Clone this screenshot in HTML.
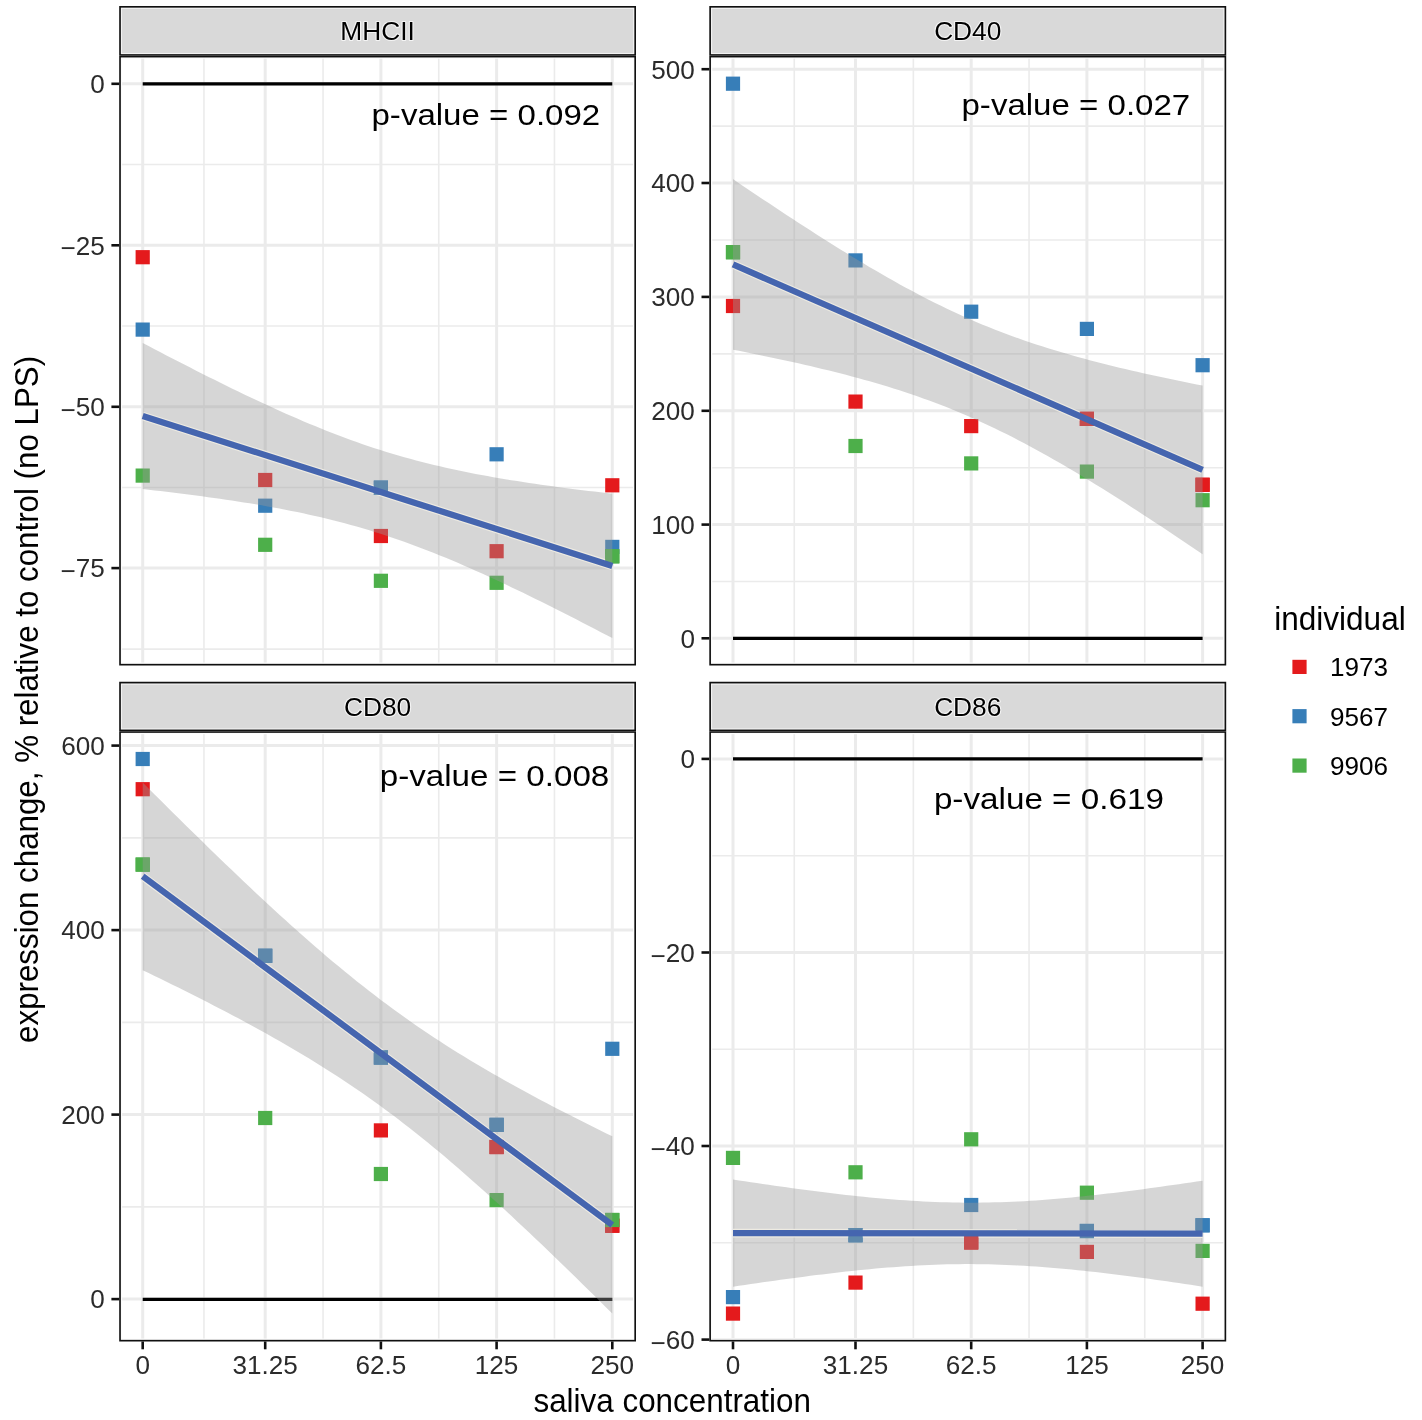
<!DOCTYPE html>
<html><head><meta charset="utf-8"><style>html,body{margin:0;padding:0;background:#fff;overflow:hidden}svg{display:block;will-change:transform}svg text{font-family:"Liberation Sans",sans-serif}</style></head><body>
<svg width="1422" height="1420" viewBox="0 0 1422 1420" >
<rect width="1422" height="1420" fill="#fff"/>
<defs>
<clipPath id="c0"><rect x="119.2" y="55.8" width="516.80" height="609.70"/></clipPath>
<clipPath id="s0"><rect x="119.2" y="6.0" width="516.80" height="49.80"/></clipPath>
<clipPath id="c1"><rect x="709.3" y="55.8" width="516.90" height="609.70"/></clipPath>
<clipPath id="s1"><rect x="709.3" y="6.0" width="516.90" height="49.80"/></clipPath>
<clipPath id="c2"><rect x="119.2" y="731.2" width="516.80" height="610.30"/></clipPath>
<clipPath id="s2"><rect x="119.2" y="681.8" width="516.80" height="49.40"/></clipPath>
<clipPath id="c3"><rect x="709.3" y="731.2" width="516.90" height="610.30"/></clipPath>
<clipPath id="s3"><rect x="709.3" y="681.8" width="516.90" height="49.40"/></clipPath>
</defs>
<g clip-path="url(#c0)">
<line x1="203.95" y1="55.8" x2="203.95" y2="665.5" stroke="#EBEBEB" stroke-width="1.6"/>
<line x1="323.05" y1="55.8" x2="323.05" y2="665.5" stroke="#EBEBEB" stroke-width="1.6"/>
<line x1="438.75" y1="55.8" x2="438.75" y2="665.5" stroke="#EBEBEB" stroke-width="1.6"/>
<line x1="554.45" y1="55.8" x2="554.45" y2="665.5" stroke="#EBEBEB" stroke-width="1.6"/>
<line x1="119.2" y1="164.55" x2="636.0" y2="164.55" stroke="#EBEBEB" stroke-width="1.6"/>
<line x1="119.2" y1="326.05" x2="636.0" y2="326.05" stroke="#EBEBEB" stroke-width="1.6"/>
<line x1="119.2" y1="487.45" x2="636.0" y2="487.45" stroke="#EBEBEB" stroke-width="1.6"/>
<line x1="119.2" y1="649.10" x2="636.0" y2="649.10" stroke="#EBEBEB" stroke-width="1.6"/>
<line x1="142.70" y1="55.8" x2="142.70" y2="665.5" stroke="#EBEBEB" stroke-width="3.0"/>
<line x1="265.20" y1="55.8" x2="265.20" y2="665.5" stroke="#EBEBEB" stroke-width="3.0"/>
<line x1="380.90" y1="55.8" x2="380.90" y2="665.5" stroke="#EBEBEB" stroke-width="3.0"/>
<line x1="496.60" y1="55.8" x2="496.60" y2="665.5" stroke="#EBEBEB" stroke-width="3.0"/>
<line x1="612.30" y1="55.8" x2="612.30" y2="665.5" stroke="#EBEBEB" stroke-width="3.0"/>
<line x1="119.2" y1="83.80" x2="636.0" y2="83.80" stroke="#EBEBEB" stroke-width="3.0"/>
<line x1="119.2" y1="245.30" x2="636.0" y2="245.30" stroke="#EBEBEB" stroke-width="3.0"/>
<line x1="119.2" y1="406.80" x2="636.0" y2="406.80" stroke="#EBEBEB" stroke-width="3.0"/>
<line x1="119.2" y1="568.10" x2="636.0" y2="568.10" stroke="#EBEBEB" stroke-width="3.0"/>
<line x1="142.70" y1="83.8" x2="612.30" y2="83.8" stroke="#000" stroke-width="3.15"/>
<rect x="135.60" y="250.10" width="14.2" height="14.2" fill="#E41A1C"/>
<rect x="258.10" y="472.90" width="14.2" height="14.2" fill="#E41A1C"/>
<rect x="373.80" y="528.90" width="14.2" height="14.2" fill="#E41A1C"/>
<rect x="489.50" y="544.10" width="14.2" height="14.2" fill="#E41A1C"/>
<rect x="605.20" y="478.20" width="14.2" height="14.2" fill="#E41A1C"/>
<rect x="135.60" y="322.50" width="14.2" height="14.2" fill="#377EB8"/>
<rect x="258.10" y="498.60" width="14.2" height="14.2" fill="#377EB8"/>
<rect x="373.80" y="480.60" width="14.2" height="14.2" fill="#377EB8"/>
<rect x="489.50" y="447.20" width="14.2" height="14.2" fill="#377EB8"/>
<rect x="605.20" y="539.80" width="14.2" height="14.2" fill="#377EB8"/>
<rect x="135.60" y="468.50" width="14.2" height="14.2" fill="#4DAF4A"/>
<rect x="258.10" y="537.70" width="14.2" height="14.2" fill="#4DAF4A"/>
<rect x="373.80" y="573.70" width="14.2" height="14.2" fill="#4DAF4A"/>
<rect x="489.50" y="575.70" width="14.2" height="14.2" fill="#4DAF4A"/>
<rect x="605.20" y="549.20" width="14.2" height="14.2" fill="#4DAF4A"/>
<polygon points="142.70,342.96 148.64,346.08 154.59,349.19 160.53,352.30 166.48,355.39 172.42,358.46 178.37,361.53 184.31,364.58 190.25,367.62 196.20,370.64 202.14,373.64 208.09,376.63 214.03,379.60 219.98,382.55 225.92,385.48 231.86,388.39 237.81,391.27 243.75,394.14 249.70,396.97 255.64,399.78 261.59,402.57 267.53,405.32 273.47,408.05 279.42,410.74 285.36,413.40 291.31,416.02 297.25,418.60 303.20,421.15 309.14,423.66 315.08,426.12 321.03,428.54 326.97,430.92 332.92,433.25 338.86,435.53 344.81,437.76 350.75,439.94 356.69,442.07 362.64,444.14 368.58,446.17 374.53,448.14 380.47,450.05 386.42,451.91 392.36,453.72 398.31,455.48 404.25,457.18 410.19,458.83 416.14,460.43 422.08,461.97 428.03,463.47 433.97,464.92 439.92,466.33 445.86,467.69 451.80,469.01 457.75,470.28 463.69,471.52 469.64,472.71 475.58,473.88 481.53,475.00 487.47,476.09 493.41,477.16 499.36,478.19 505.30,479.19 511.25,480.16 517.19,481.11 523.14,482.04 529.08,482.94 535.02,483.82 540.97,484.67 546.91,485.51 552.86,486.33 558.80,487.13 564.75,487.92 570.69,488.69 576.63,489.44 582.58,490.18 588.52,490.91 594.47,491.62 600.41,492.32 606.36,493.01 612.30,493.69 612.30,638.12 606.36,635.01 600.41,631.90 594.47,628.81 588.52,625.73 582.58,622.66 576.63,619.60 570.69,616.56 564.75,613.54 558.80,610.53 552.86,607.53 546.91,604.56 540.97,601.60 535.02,598.67 529.08,595.75 523.14,592.86 517.19,589.99 511.25,587.14 505.30,584.32 499.36,581.53 493.41,578.76 487.47,576.03 481.53,573.33 475.58,570.66 469.64,568.03 463.69,565.43 457.75,562.87 451.80,560.35 445.86,557.87 439.92,555.44 433.97,553.05 428.03,550.71 422.08,548.41 416.14,546.16 410.19,543.97 404.25,541.82 398.31,539.73 392.36,537.69 386.42,535.70 380.47,533.77 374.53,531.89 368.58,530.07 362.64,528.30 356.69,526.58 350.75,524.91 344.81,523.30 338.86,521.73 332.92,520.22 326.97,518.75 321.03,517.33 315.08,515.96 309.14,514.63 303.20,513.34 297.25,512.09 291.31,510.88 285.36,509.71 279.42,508.57 273.47,507.47 267.53,506.40 261.59,505.36 255.64,504.35 249.70,503.37 243.75,502.41 237.81,501.48 231.86,500.57 225.92,499.68 219.98,498.82 214.03,497.97 208.09,497.15 202.14,496.34 196.20,495.55 190.25,494.78 184.31,494.02 178.37,493.28 172.42,492.55 166.48,491.83 160.53,491.12 154.59,490.43 148.64,489.75 142.70,489.08" fill="#999999" fill-opacity="0.4"/>
<line x1="142.70" y1="416.02" x2="612.30" y2="565.91" stroke="#EEEBE2" stroke-width="8.6"/>
<rect x="373.80" y="480.60" width="14.2" height="14.2" fill="#377EB8"/>
<rect x="373.80" y="480.60" width="14.20" height="14.2" fill="#999999" fill-opacity="0.4"/>
<rect x="605.20" y="549.20" width="14.2" height="14.2" fill="#4DAF4A"/>
<rect x="605.20" y="549.20" width="7.10" height="14.2" fill="#999999" fill-opacity="0.4"/>
<line x1="142.70" y1="416.02" x2="612.30" y2="565.91" stroke="#4565AF" stroke-width="6.3"/>
<text x="371.5" y="125.1" font-size="28.8" textLength="228.7" lengthAdjust="spacingAndGlyphs" fill="#000">p-value = 0.092</text>
<rect x="119.2" y="55.8" width="516.80" height="609.70" fill="none" stroke="#FCFCFC" stroke-width="5.90"/>
<rect x="119.2" y="55.8" width="516.80" height="609.70" fill="none" stroke="#101010" stroke-width="3.3"/>
</g>
<g clip-path="url(#s0)"><rect x="119.2" y="6.0" width="516.80" height="49.80" fill="#F2F2F2" stroke="#101010" stroke-width="3.3"/><rect x="122.05" y="8.85" width="511.10" height="44.10" fill="#D9D9D9"/></g>
<text x="377.60" y="40.10" font-size="26.3" text-anchor="middle" fill="#000000" stroke="#F4F4F4" stroke-width="2.2" paint-order="stroke" stroke-linejoin="round">MHCII</text>
<line x1="111.40" y1="83.80" x2="119.20" y2="83.80" stroke="#101010" stroke-width="2.6"/>
<text x="104.80" y="93.10" font-size="26.1" text-anchor="end" fill="#2B2B2B">0</text>
<line x1="111.40" y1="245.30" x2="119.20" y2="245.30" stroke="#101010" stroke-width="2.6"/>
<text x="104.80" y="254.60" font-size="26.1" text-anchor="end" fill="#2B2B2B"><tspan dy="2.7">−</tspan><tspan dy="-2.7">25</tspan></text>
<line x1="111.40" y1="406.80" x2="119.20" y2="406.80" stroke="#101010" stroke-width="2.6"/>
<text x="104.80" y="416.10" font-size="26.1" text-anchor="end" fill="#2B2B2B"><tspan dy="2.7">−</tspan><tspan dy="-2.7">50</tspan></text>
<line x1="111.40" y1="568.10" x2="119.20" y2="568.10" stroke="#101010" stroke-width="2.6"/>
<text x="104.80" y="577.40" font-size="26.1" text-anchor="end" fill="#2B2B2B"><tspan dy="2.7">−</tspan><tspan dy="-2.7">75</tspan></text>
<g clip-path="url(#c1)">
<line x1="794.25" y1="55.8" x2="794.25" y2="665.5" stroke="#EBEBEB" stroke-width="1.6"/>
<line x1="913.35" y1="55.8" x2="913.35" y2="665.5" stroke="#EBEBEB" stroke-width="1.6"/>
<line x1="1029.05" y1="55.8" x2="1029.05" y2="665.5" stroke="#EBEBEB" stroke-width="1.6"/>
<line x1="1144.75" y1="55.8" x2="1144.75" y2="665.5" stroke="#EBEBEB" stroke-width="1.6"/>
<line x1="709.3" y1="581.45" x2="1226.2" y2="581.45" stroke="#EBEBEB" stroke-width="1.6"/>
<line x1="709.3" y1="467.70" x2="1226.2" y2="467.70" stroke="#EBEBEB" stroke-width="1.6"/>
<line x1="709.3" y1="353.85" x2="1226.2" y2="353.85" stroke="#EBEBEB" stroke-width="1.6"/>
<line x1="709.3" y1="239.95" x2="1226.2" y2="239.95" stroke="#EBEBEB" stroke-width="1.6"/>
<line x1="709.3" y1="126.10" x2="1226.2" y2="126.10" stroke="#EBEBEB" stroke-width="1.6"/>
<line x1="733.00" y1="55.8" x2="733.00" y2="665.5" stroke="#EBEBEB" stroke-width="3.0"/>
<line x1="855.50" y1="55.8" x2="855.50" y2="665.5" stroke="#EBEBEB" stroke-width="3.0"/>
<line x1="971.20" y1="55.8" x2="971.20" y2="665.5" stroke="#EBEBEB" stroke-width="3.0"/>
<line x1="1086.90" y1="55.8" x2="1086.90" y2="665.5" stroke="#EBEBEB" stroke-width="3.0"/>
<line x1="1202.60" y1="55.8" x2="1202.60" y2="665.5" stroke="#EBEBEB" stroke-width="3.0"/>
<line x1="709.3" y1="638.30" x2="1226.2" y2="638.30" stroke="#EBEBEB" stroke-width="3.0"/>
<line x1="709.3" y1="524.60" x2="1226.2" y2="524.60" stroke="#EBEBEB" stroke-width="3.0"/>
<line x1="709.3" y1="410.80" x2="1226.2" y2="410.80" stroke="#EBEBEB" stroke-width="3.0"/>
<line x1="709.3" y1="296.90" x2="1226.2" y2="296.90" stroke="#EBEBEB" stroke-width="3.0"/>
<line x1="709.3" y1="183.00" x2="1226.2" y2="183.00" stroke="#EBEBEB" stroke-width="3.0"/>
<line x1="709.3" y1="69.20" x2="1226.2" y2="69.20" stroke="#EBEBEB" stroke-width="3.0"/>
<line x1="733.00" y1="638.4" x2="1202.60" y2="638.4" stroke="#000" stroke-width="3.15"/>
<rect x="725.90" y="298.90" width="14.2" height="14.2" fill="#E41A1C"/>
<rect x="848.40" y="394.50" width="14.2" height="14.2" fill="#E41A1C"/>
<rect x="964.10" y="419.00" width="14.2" height="14.2" fill="#E41A1C"/>
<rect x="1079.80" y="411.80" width="14.2" height="14.2" fill="#E41A1C"/>
<rect x="1195.50" y="477.70" width="14.2" height="14.2" fill="#E41A1C"/>
<rect x="725.90" y="76.60" width="14.2" height="14.2" fill="#377EB8"/>
<rect x="848.40" y="253.30" width="14.2" height="14.2" fill="#377EB8"/>
<rect x="964.10" y="304.60" width="14.2" height="14.2" fill="#377EB8"/>
<rect x="1079.80" y="321.80" width="14.2" height="14.2" fill="#377EB8"/>
<rect x="1195.50" y="358.10" width="14.2" height="14.2" fill="#377EB8"/>
<rect x="725.90" y="245.10" width="14.2" height="14.2" fill="#4DAF4A"/>
<rect x="848.40" y="438.90" width="14.2" height="14.2" fill="#4DAF4A"/>
<rect x="964.10" y="456.30" width="14.2" height="14.2" fill="#4DAF4A"/>
<rect x="1079.80" y="464.50" width="14.2" height="14.2" fill="#4DAF4A"/>
<rect x="1195.50" y="493.10" width="14.2" height="14.2" fill="#4DAF4A"/>
<polygon points="733.00,179.11 738.94,183.15 744.89,187.17 750.83,191.17 756.78,195.17 762.72,199.15 768.67,203.11 774.61,207.06 780.55,210.99 786.50,214.90 792.44,218.80 798.39,222.67 804.33,226.52 810.28,230.35 816.22,234.16 822.16,237.94 828.11,241.70 834.05,245.43 840.00,249.13 845.94,252.79 851.89,256.43 857.83,260.03 863.77,263.60 869.72,267.13 875.66,270.62 881.61,274.07 887.55,277.47 893.50,280.83 899.44,284.14 905.38,287.40 911.33,290.62 917.27,293.78 923.22,296.88 929.16,299.93 935.11,302.92 941.05,305.85 946.99,308.72 952.94,311.53 958.88,314.28 964.83,316.97 970.77,319.59 976.72,322.15 982.66,324.65 988.61,327.08 994.55,329.46 1000.49,331.77 1006.44,334.02 1012.38,336.22 1018.33,338.35 1024.27,340.43 1030.22,342.46 1036.16,344.43 1042.10,346.36 1048.05,348.23 1053.99,350.06 1059.94,351.85 1065.88,353.59 1071.83,355.29 1077.77,356.95 1083.71,358.58 1089.66,360.17 1095.60,361.72 1101.55,363.25 1107.49,364.74 1113.44,366.21 1119.38,367.65 1125.32,369.06 1131.27,370.45 1137.21,371.81 1143.16,373.16 1149.10,374.48 1155.05,375.78 1160.99,377.07 1166.93,378.33 1172.88,379.58 1178.82,380.82 1184.77,382.04 1190.71,383.24 1196.66,384.43 1202.60,385.61 1202.60,554.21 1196.66,550.19 1190.71,546.17 1184.77,542.18 1178.82,538.19 1172.88,534.22 1166.93,530.27 1160.99,526.33 1155.05,522.42 1149.10,518.52 1143.16,514.64 1137.21,510.78 1131.27,506.94 1125.32,503.12 1119.38,499.33 1113.44,495.57 1107.49,491.83 1101.55,488.12 1095.60,484.45 1089.66,480.80 1083.71,477.19 1077.77,473.61 1071.83,470.07 1065.88,466.57 1059.94,463.10 1053.99,459.69 1048.05,456.31 1042.10,452.99 1036.16,449.71 1030.22,446.48 1024.27,443.30 1018.33,440.18 1012.38,437.11 1006.44,434.10 1000.49,431.15 994.55,428.26 988.61,425.43 982.66,422.67 976.72,419.96 970.77,417.32 964.83,414.74 958.88,412.22 952.94,409.77 946.99,407.37 941.05,405.04 935.11,402.77 929.16,400.56 923.22,398.41 917.27,396.31 911.33,394.26 905.38,392.27 899.44,390.33 893.50,388.44 887.55,386.60 881.61,384.80 875.66,383.05 869.72,381.33 863.77,379.66 857.83,378.02 851.89,376.42 845.94,374.85 840.00,373.32 834.05,371.82 828.11,370.34 822.16,368.89 816.22,367.47 810.28,366.08 804.33,364.70 798.39,363.35 792.44,362.03 786.50,360.72 780.55,359.43 774.61,358.15 768.67,356.90 762.72,355.66 756.78,354.44 750.83,353.23 744.89,352.03 738.94,350.85 733.00,349.68" fill="#999999" fill-opacity="0.4"/>
<line x1="733.00" y1="264.40" x2="1202.60" y2="469.91" stroke="#EEEBE2" stroke-width="8.6"/>
<rect x="1079.80" y="411.80" width="14.2" height="14.2" fill="#E41A1C"/>
<rect x="1079.80" y="411.80" width="14.20" height="14.2" fill="#999999" fill-opacity="0.4"/>
<rect x="1195.50" y="477.70" width="14.2" height="14.2" fill="#E41A1C"/>
<rect x="1195.50" y="477.70" width="7.10" height="14.2" fill="#999999" fill-opacity="0.4"/>
<rect x="725.90" y="245.10" width="14.2" height="14.2" fill="#4DAF4A"/>
<rect x="733.00" y="245.10" width="7.10" height="14.2" fill="#999999" fill-opacity="0.4"/>
<line x1="733.00" y1="264.40" x2="1202.60" y2="469.91" stroke="#4565AF" stroke-width="6.3"/>
<text x="961.5" y="114.7" font-size="28.8" textLength="228.7" lengthAdjust="spacingAndGlyphs" fill="#000">p-value = 0.027</text>
<rect x="709.3" y="55.8" width="516.90" height="609.70" fill="none" stroke="#FCFCFC" stroke-width="5.90"/>
<rect x="709.3" y="55.8" width="516.90" height="609.70" fill="none" stroke="#101010" stroke-width="3.3"/>
</g>
<g clip-path="url(#s1)"><rect x="709.3" y="6.0" width="516.90" height="49.80" fill="#F2F2F2" stroke="#101010" stroke-width="3.3"/><rect x="712.15" y="8.85" width="511.20" height="44.10" fill="#D9D9D9"/></g>
<text x="967.75" y="40.10" font-size="26.3" text-anchor="middle" fill="#000000" stroke="#F4F4F4" stroke-width="2.2" paint-order="stroke" stroke-linejoin="round">CD40</text>
<line x1="701.50" y1="638.30" x2="709.30" y2="638.30" stroke="#101010" stroke-width="2.6"/>
<text x="694.90" y="647.60" font-size="26.1" text-anchor="end" fill="#2B2B2B">0</text>
<line x1="701.50" y1="524.60" x2="709.30" y2="524.60" stroke="#101010" stroke-width="2.6"/>
<text x="694.90" y="533.90" font-size="26.1" text-anchor="end" fill="#2B2B2B">100</text>
<line x1="701.50" y1="410.80" x2="709.30" y2="410.80" stroke="#101010" stroke-width="2.6"/>
<text x="694.90" y="420.10" font-size="26.1" text-anchor="end" fill="#2B2B2B">200</text>
<line x1="701.50" y1="296.90" x2="709.30" y2="296.90" stroke="#101010" stroke-width="2.6"/>
<text x="694.90" y="306.20" font-size="26.1" text-anchor="end" fill="#2B2B2B">300</text>
<line x1="701.50" y1="183.00" x2="709.30" y2="183.00" stroke="#101010" stroke-width="2.6"/>
<text x="694.90" y="192.30" font-size="26.1" text-anchor="end" fill="#2B2B2B">400</text>
<line x1="701.50" y1="69.20" x2="709.30" y2="69.20" stroke="#101010" stroke-width="2.6"/>
<text x="694.90" y="78.50" font-size="26.1" text-anchor="end" fill="#2B2B2B">500</text>
<g clip-path="url(#c2)">
<line x1="203.95" y1="731.2" x2="203.95" y2="1341.5" stroke="#EBEBEB" stroke-width="1.6"/>
<line x1="323.05" y1="731.2" x2="323.05" y2="1341.5" stroke="#EBEBEB" stroke-width="1.6"/>
<line x1="438.75" y1="731.2" x2="438.75" y2="1341.5" stroke="#EBEBEB" stroke-width="1.6"/>
<line x1="554.45" y1="731.2" x2="554.45" y2="1341.5" stroke="#EBEBEB" stroke-width="1.6"/>
<line x1="119.2" y1="1206.85" x2="636.0" y2="1206.85" stroke="#EBEBEB" stroke-width="1.6"/>
<line x1="119.2" y1="1022.35" x2="636.0" y2="1022.35" stroke="#EBEBEB" stroke-width="1.6"/>
<line x1="119.2" y1="837.85" x2="636.0" y2="837.85" stroke="#EBEBEB" stroke-width="1.6"/>
<line x1="142.70" y1="731.2" x2="142.70" y2="1341.5" stroke="#EBEBEB" stroke-width="3.0"/>
<line x1="265.20" y1="731.2" x2="265.20" y2="1341.5" stroke="#EBEBEB" stroke-width="3.0"/>
<line x1="380.90" y1="731.2" x2="380.90" y2="1341.5" stroke="#EBEBEB" stroke-width="3.0"/>
<line x1="496.60" y1="731.2" x2="496.60" y2="1341.5" stroke="#EBEBEB" stroke-width="3.0"/>
<line x1="612.30" y1="731.2" x2="612.30" y2="1341.5" stroke="#EBEBEB" stroke-width="3.0"/>
<line x1="119.2" y1="1299.10" x2="636.0" y2="1299.10" stroke="#EBEBEB" stroke-width="3.0"/>
<line x1="119.2" y1="1114.60" x2="636.0" y2="1114.60" stroke="#EBEBEB" stroke-width="3.0"/>
<line x1="119.2" y1="930.10" x2="636.0" y2="930.10" stroke="#EBEBEB" stroke-width="3.0"/>
<line x1="119.2" y1="745.60" x2="636.0" y2="745.60" stroke="#EBEBEB" stroke-width="3.0"/>
<line x1="142.70" y1="1299.4" x2="612.30" y2="1299.4" stroke="#000" stroke-width="3.15"/>
<rect x="135.60" y="782.10" width="14.2" height="14.2" fill="#E41A1C"/>
<rect x="373.80" y="1123.30" width="14.2" height="14.2" fill="#E41A1C"/>
<rect x="489.50" y="1139.90" width="14.2" height="14.2" fill="#E41A1C"/>
<rect x="605.20" y="1218.60" width="14.2" height="14.2" fill="#E41A1C"/>
<rect x="135.60" y="751.90" width="14.2" height="14.2" fill="#377EB8"/>
<rect x="258.10" y="948.70" width="14.2" height="14.2" fill="#377EB8"/>
<rect x="373.80" y="1050.40" width="14.2" height="14.2" fill="#377EB8"/>
<rect x="489.50" y="1117.80" width="14.2" height="14.2" fill="#377EB8"/>
<rect x="605.20" y="1041.70" width="14.2" height="14.2" fill="#377EB8"/>
<rect x="135.60" y="857.50" width="14.2" height="14.2" fill="#4DAF4A"/>
<rect x="258.10" y="1110.90" width="14.2" height="14.2" fill="#4DAF4A"/>
<rect x="373.80" y="1166.90" width="14.2" height="14.2" fill="#4DAF4A"/>
<rect x="489.50" y="1193.00" width="14.2" height="14.2" fill="#4DAF4A"/>
<rect x="605.20" y="1212.90" width="14.2" height="14.2" fill="#4DAF4A"/>
<polygon points="142.70,782.50 148.64,788.46 154.59,794.40 160.53,800.32 166.48,806.24 172.42,812.13 178.37,818.02 184.31,823.88 190.25,829.73 196.20,835.56 202.14,841.37 208.09,847.17 214.03,852.94 219.98,858.68 225.92,864.41 231.86,870.11 237.81,875.78 243.75,881.43 249.70,887.04 255.64,892.63 261.59,898.19 267.53,903.71 273.47,909.19 279.42,914.64 285.36,920.04 291.31,925.41 297.25,930.73 303.20,936.01 309.14,941.24 315.08,946.42 321.03,951.55 326.97,956.63 332.92,961.65 338.86,966.61 344.81,971.52 350.75,976.36 356.69,981.15 362.64,985.87 368.58,990.53 374.53,995.12 380.47,999.64 386.42,1004.10 392.36,1008.50 398.31,1012.83 404.25,1017.09 410.19,1021.28 416.14,1025.42 422.08,1029.49 428.03,1033.49 433.97,1037.44 439.92,1041.33 445.86,1045.15 451.80,1048.93 457.75,1052.65 463.69,1056.31 469.64,1059.93 475.58,1063.50 481.53,1067.02 487.47,1070.50 493.41,1073.94 499.36,1077.33 505.30,1080.69 511.25,1084.01 517.19,1087.30 523.14,1090.55 529.08,1093.77 535.02,1096.96 540.97,1100.13 546.91,1103.26 552.86,1106.38 558.80,1109.46 564.75,1112.53 570.69,1115.57 576.63,1118.59 582.58,1121.60 588.52,1124.58 594.47,1127.55 600.41,1130.50 606.36,1133.43 612.30,1136.35 612.30,1313.54 606.36,1307.63 600.41,1301.74 594.47,1295.86 588.52,1290.00 582.58,1284.16 576.63,1278.34 570.69,1272.54 564.75,1266.75 558.80,1260.99 552.86,1255.26 546.91,1249.54 540.97,1243.85 535.02,1238.19 529.08,1232.56 523.14,1226.95 517.19,1221.38 511.25,1215.84 505.30,1210.34 499.36,1204.87 493.41,1199.44 487.47,1194.05 481.53,1188.70 475.58,1183.40 469.64,1178.14 463.69,1172.93 457.75,1167.77 451.80,1162.67 445.86,1157.61 439.92,1152.62 433.97,1147.68 428.03,1142.80 422.08,1137.98 416.14,1133.22 410.19,1128.53 404.25,1123.90 398.31,1119.34 392.36,1114.84 386.42,1110.41 380.47,1106.04 374.53,1101.74 368.58,1097.51 362.64,1093.34 356.69,1089.24 350.75,1085.19 344.81,1081.21 338.86,1077.29 332.92,1073.43 326.97,1069.63 321.03,1065.88 315.08,1062.18 309.14,1058.54 303.20,1054.94 297.25,1051.39 291.31,1047.89 285.36,1044.43 279.42,1041.01 273.47,1037.63 267.53,1034.29 261.59,1030.99 255.64,1027.72 249.70,1024.48 243.75,1021.27 237.81,1018.09 231.86,1014.94 225.92,1011.81 219.98,1008.71 214.03,1005.63 208.09,1002.58 202.14,999.54 196.20,996.53 190.25,993.53 184.31,990.56 178.37,987.60 172.42,984.65 166.48,981.73 160.53,978.81 154.59,975.91 148.64,973.03 142.70,970.15" fill="#999999" fill-opacity="0.4"/>
<line x1="142.70" y1="876.33" x2="612.30" y2="1224.94" stroke="#EEEBE2" stroke-width="8.6"/>
<rect x="489.50" y="1139.90" width="14.2" height="14.2" fill="#E41A1C"/>
<rect x="489.50" y="1139.90" width="14.20" height="14.2" fill="#999999" fill-opacity="0.4"/>
<rect x="605.20" y="1218.60" width="14.2" height="14.2" fill="#E41A1C"/>
<rect x="605.20" y="1218.60" width="7.10" height="14.2" fill="#999999" fill-opacity="0.4"/>
<rect x="258.10" y="948.70" width="14.2" height="14.2" fill="#377EB8"/>
<rect x="258.10" y="948.70" width="14.20" height="14.2" fill="#999999" fill-opacity="0.4"/>
<rect x="373.80" y="1050.40" width="14.2" height="14.2" fill="#377EB8"/>
<rect x="373.80" y="1050.40" width="14.20" height="14.2" fill="#999999" fill-opacity="0.4"/>
<rect x="489.50" y="1117.80" width="14.2" height="14.2" fill="#377EB8"/>
<rect x="489.50" y="1117.80" width="14.20" height="14.2" fill="#999999" fill-opacity="0.4"/>
<rect x="135.60" y="857.50" width="14.2" height="14.2" fill="#4DAF4A"/>
<rect x="142.70" y="857.50" width="7.10" height="14.2" fill="#999999" fill-opacity="0.4"/>
<rect x="605.20" y="1212.90" width="14.2" height="14.2" fill="#4DAF4A"/>
<rect x="605.20" y="1212.90" width="7.10" height="14.2" fill="#999999" fill-opacity="0.4"/>
<line x1="142.70" y1="876.33" x2="612.30" y2="1224.94" stroke="#4565AF" stroke-width="6.3"/>
<text x="379.7" y="785.7" font-size="28.8" textLength="229.6" lengthAdjust="spacingAndGlyphs" fill="#000">p-value = 0.008</text>
<rect x="119.2" y="731.2" width="516.80" height="610.30" fill="none" stroke="#FCFCFC" stroke-width="5.90"/>
<rect x="119.2" y="731.2" width="516.80" height="610.30" fill="none" stroke="#101010" stroke-width="3.3"/>
</g>
<g clip-path="url(#s2)"><rect x="119.2" y="681.8" width="516.80" height="49.40" fill="#F2F2F2" stroke="#101010" stroke-width="3.3"/><rect x="122.05" y="684.65" width="511.10" height="43.70" fill="#D9D9D9"/></g>
<text x="377.60" y="715.70" font-size="26.3" text-anchor="middle" fill="#000000" stroke="#F4F4F4" stroke-width="2.2" paint-order="stroke" stroke-linejoin="round">CD80</text>
<line x1="111.40" y1="1299.10" x2="119.20" y2="1299.10" stroke="#101010" stroke-width="2.6"/>
<text x="104.80" y="1308.40" font-size="26.1" text-anchor="end" fill="#2B2B2B">0</text>
<line x1="111.40" y1="1114.60" x2="119.20" y2="1114.60" stroke="#101010" stroke-width="2.6"/>
<text x="104.80" y="1123.90" font-size="26.1" text-anchor="end" fill="#2B2B2B">200</text>
<line x1="111.40" y1="930.10" x2="119.20" y2="930.10" stroke="#101010" stroke-width="2.6"/>
<text x="104.80" y="939.40" font-size="26.1" text-anchor="end" fill="#2B2B2B">400</text>
<line x1="111.40" y1="745.60" x2="119.20" y2="745.60" stroke="#101010" stroke-width="2.6"/>
<text x="104.80" y="754.90" font-size="26.1" text-anchor="end" fill="#2B2B2B">600</text>
<line x1="142.70" y1="1341.50" x2="142.70" y2="1349.30" stroke="#101010" stroke-width="2.6"/>
<text x="142.70" y="1374.3" font-size="26.1" text-anchor="middle" fill="#2B2B2B">0</text>
<line x1="265.20" y1="1341.50" x2="265.20" y2="1349.30" stroke="#101010" stroke-width="2.6"/>
<text x="265.20" y="1374.3" font-size="26.1" text-anchor="middle" fill="#2B2B2B">31.25</text>
<line x1="380.90" y1="1341.50" x2="380.90" y2="1349.30" stroke="#101010" stroke-width="2.6"/>
<text x="380.90" y="1374.3" font-size="26.1" text-anchor="middle" fill="#2B2B2B">62.5</text>
<line x1="496.60" y1="1341.50" x2="496.60" y2="1349.30" stroke="#101010" stroke-width="2.6"/>
<text x="496.60" y="1374.3" font-size="26.1" text-anchor="middle" fill="#2B2B2B">125</text>
<line x1="612.30" y1="1341.50" x2="612.30" y2="1349.30" stroke="#101010" stroke-width="2.6"/>
<text x="612.30" y="1374.3" font-size="26.1" text-anchor="middle" fill="#2B2B2B">250</text>
<g clip-path="url(#c3)">
<line x1="794.25" y1="731.2" x2="794.25" y2="1341.5" stroke="#EBEBEB" stroke-width="1.6"/>
<line x1="913.35" y1="731.2" x2="913.35" y2="1341.5" stroke="#EBEBEB" stroke-width="1.6"/>
<line x1="1029.05" y1="731.2" x2="1029.05" y2="1341.5" stroke="#EBEBEB" stroke-width="1.6"/>
<line x1="1144.75" y1="731.2" x2="1144.75" y2="1341.5" stroke="#EBEBEB" stroke-width="1.6"/>
<line x1="709.3" y1="855.70" x2="1226.2" y2="855.70" stroke="#EBEBEB" stroke-width="1.6"/>
<line x1="709.3" y1="1049.25" x2="1226.2" y2="1049.25" stroke="#EBEBEB" stroke-width="1.6"/>
<line x1="709.3" y1="1242.80" x2="1226.2" y2="1242.80" stroke="#EBEBEB" stroke-width="1.6"/>
<line x1="733.00" y1="731.2" x2="733.00" y2="1341.5" stroke="#EBEBEB" stroke-width="3.0"/>
<line x1="855.50" y1="731.2" x2="855.50" y2="1341.5" stroke="#EBEBEB" stroke-width="3.0"/>
<line x1="971.20" y1="731.2" x2="971.20" y2="1341.5" stroke="#EBEBEB" stroke-width="3.0"/>
<line x1="1086.90" y1="731.2" x2="1086.90" y2="1341.5" stroke="#EBEBEB" stroke-width="3.0"/>
<line x1="1202.60" y1="731.2" x2="1202.60" y2="1341.5" stroke="#EBEBEB" stroke-width="3.0"/>
<line x1="709.3" y1="758.90" x2="1226.2" y2="758.90" stroke="#EBEBEB" stroke-width="3.0"/>
<line x1="709.3" y1="952.50" x2="1226.2" y2="952.50" stroke="#EBEBEB" stroke-width="3.0"/>
<line x1="709.3" y1="1146.00" x2="1226.2" y2="1146.00" stroke="#EBEBEB" stroke-width="3.0"/>
<line x1="709.3" y1="1339.60" x2="1226.2" y2="1339.60" stroke="#EBEBEB" stroke-width="3.0"/>
<line x1="733.00" y1="758.9" x2="1202.60" y2="758.9" stroke="#000" stroke-width="3.15"/>
<rect x="725.90" y="1306.50" width="14.2" height="14.2" fill="#E41A1C"/>
<rect x="848.40" y="1275.50" width="14.2" height="14.2" fill="#E41A1C"/>
<rect x="964.10" y="1235.30" width="14.2" height="14.2" fill="#E41A1C"/>
<rect x="1079.80" y="1244.80" width="14.2" height="14.2" fill="#E41A1C"/>
<rect x="1195.50" y="1296.60" width="14.2" height="14.2" fill="#E41A1C"/>
<rect x="725.90" y="1290.00" width="14.2" height="14.2" fill="#377EB8"/>
<rect x="848.40" y="1228.10" width="14.2" height="14.2" fill="#377EB8"/>
<rect x="964.10" y="1197.90" width="14.2" height="14.2" fill="#377EB8"/>
<rect x="1079.80" y="1223.90" width="14.2" height="14.2" fill="#377EB8"/>
<rect x="1195.50" y="1218.20" width="14.2" height="14.2" fill="#377EB8"/>
<rect x="725.90" y="1150.80" width="14.2" height="14.2" fill="#4DAF4A"/>
<rect x="848.40" y="1165.20" width="14.2" height="14.2" fill="#4DAF4A"/>
<rect x="964.10" y="1132.20" width="14.2" height="14.2" fill="#4DAF4A"/>
<rect x="1079.80" y="1185.60" width="14.2" height="14.2" fill="#4DAF4A"/>
<rect x="1195.50" y="1243.80" width="14.2" height="14.2" fill="#4DAF4A"/>
<polygon points="733.00,1179.52 738.94,1180.42 744.89,1181.32 750.83,1182.21 756.78,1183.10 762.72,1183.97 768.67,1184.83 774.61,1185.69 780.55,1186.53 786.50,1187.36 792.44,1188.18 798.39,1188.98 804.33,1189.78 810.28,1190.56 816.22,1191.32 822.16,1192.07 828.11,1192.80 834.05,1193.52 840.00,1194.21 845.94,1194.89 851.89,1195.55 857.83,1196.18 863.77,1196.80 869.72,1197.39 875.66,1197.95 881.61,1198.49 887.55,1199.00 893.50,1199.49 899.44,1199.94 905.38,1200.36 911.33,1200.75 917.27,1201.11 923.22,1201.43 929.16,1201.72 935.11,1201.97 941.05,1202.19 946.99,1202.36 952.94,1202.50 958.88,1202.60 964.83,1202.66 970.77,1202.68 976.72,1202.66 982.66,1202.60 988.61,1202.51 994.55,1202.37 1000.49,1202.20 1006.44,1201.98 1012.38,1201.73 1018.33,1201.45 1024.27,1201.13 1030.22,1200.77 1036.16,1200.39 1042.10,1199.97 1048.05,1199.52 1053.99,1199.04 1059.94,1198.53 1065.88,1198.00 1071.83,1197.44 1077.77,1196.86 1083.71,1196.25 1089.66,1195.62 1095.60,1194.97 1101.55,1194.30 1107.49,1193.61 1113.44,1192.90 1119.38,1192.18 1125.32,1191.44 1131.27,1190.68 1137.21,1189.91 1143.16,1189.13 1149.10,1188.33 1155.05,1187.52 1160.99,1186.70 1166.93,1185.87 1172.88,1185.03 1178.82,1184.18 1184.77,1183.31 1190.71,1182.44 1196.66,1181.56 1202.60,1180.68 1202.60,1286.65 1196.66,1285.74 1190.71,1284.85 1184.77,1283.97 1178.82,1283.09 1172.88,1282.22 1166.93,1281.37 1160.99,1280.52 1155.05,1279.69 1149.10,1278.86 1143.16,1278.05 1137.21,1277.26 1131.27,1276.47 1125.32,1275.70 1119.38,1274.95 1113.44,1274.21 1107.49,1273.49 1101.55,1272.79 1095.60,1272.10 1089.66,1271.44 1083.71,1270.80 1077.77,1270.18 1071.83,1269.58 1065.88,1269.01 1059.94,1268.46 1053.99,1267.94 1048.05,1267.45 1042.10,1266.99 1036.16,1266.55 1030.22,1266.15 1024.27,1265.78 1018.33,1265.45 1012.38,1265.15 1006.44,1264.89 1000.49,1264.66 994.55,1264.47 988.61,1264.32 982.66,1264.21 976.72,1264.14 970.77,1264.11 964.83,1264.11 958.88,1264.16 952.94,1264.24 946.99,1264.37 941.05,1264.53 935.11,1264.73 929.16,1264.97 923.22,1265.25 917.27,1265.56 911.33,1265.90 905.38,1266.28 899.44,1266.69 893.50,1267.13 887.55,1267.59 881.61,1268.09 875.66,1268.62 869.72,1269.17 863.77,1269.74 857.83,1270.34 851.89,1270.97 845.94,1271.61 840.00,1272.27 834.05,1272.96 828.11,1273.66 822.16,1274.38 816.22,1275.11 810.28,1275.86 804.33,1276.63 798.39,1277.41 792.44,1278.20 786.50,1279.01 780.55,1279.82 774.61,1280.65 768.67,1281.49 762.72,1282.34 756.78,1283.20 750.83,1284.07 744.89,1284.95 738.94,1285.83 733.00,1286.73" fill="#999999" fill-opacity="0.4"/>
<line x1="733.00" y1="1233.12" x2="1202.60" y2="1233.66" stroke="#EEEBE2" stroke-width="8.6"/>
<rect x="964.10" y="1235.30" width="14.2" height="14.2" fill="#E41A1C"/>
<rect x="964.10" y="1235.30" width="14.20" height="14.2" fill="#999999" fill-opacity="0.4"/>
<rect x="848.40" y="1228.10" width="14.2" height="14.2" fill="#377EB8"/>
<rect x="848.40" y="1228.10" width="14.20" height="14.2" fill="#999999" fill-opacity="0.4"/>
<rect x="1079.80" y="1223.90" width="14.2" height="14.2" fill="#377EB8"/>
<rect x="1079.80" y="1223.90" width="14.20" height="14.2" fill="#999999" fill-opacity="0.4"/>
<rect x="1195.50" y="1218.20" width="14.2" height="14.2" fill="#377EB8"/>
<rect x="1195.50" y="1218.20" width="7.10" height="14.2" fill="#999999" fill-opacity="0.4"/>
<line x1="733.00" y1="1233.12" x2="1202.60" y2="1233.66" stroke="#4565AF" stroke-width="6.3"/>
<text x="933.9" y="808.8" font-size="28.8" textLength="230.0" lengthAdjust="spacingAndGlyphs" fill="#000">p-value = 0.619</text>
<rect x="709.3" y="731.2" width="516.90" height="610.30" fill="none" stroke="#FCFCFC" stroke-width="5.90"/>
<rect x="709.3" y="731.2" width="516.90" height="610.30" fill="none" stroke="#101010" stroke-width="3.3"/>
</g>
<g clip-path="url(#s3)"><rect x="709.3" y="681.8" width="516.90" height="49.40" fill="#F2F2F2" stroke="#101010" stroke-width="3.3"/><rect x="712.15" y="684.65" width="511.20" height="43.70" fill="#D9D9D9"/></g>
<text x="967.75" y="715.70" font-size="26.3" text-anchor="middle" fill="#000000" stroke="#F4F4F4" stroke-width="2.2" paint-order="stroke" stroke-linejoin="round">CD86</text>
<line x1="701.50" y1="758.90" x2="709.30" y2="758.90" stroke="#101010" stroke-width="2.6"/>
<text x="694.90" y="768.20" font-size="26.1" text-anchor="end" fill="#2B2B2B">0</text>
<line x1="701.50" y1="952.50" x2="709.30" y2="952.50" stroke="#101010" stroke-width="2.6"/>
<text x="694.90" y="961.80" font-size="26.1" text-anchor="end" fill="#2B2B2B"><tspan dy="2.7">−</tspan><tspan dy="-2.7">20</tspan></text>
<line x1="701.50" y1="1146.00" x2="709.30" y2="1146.00" stroke="#101010" stroke-width="2.6"/>
<text x="694.90" y="1155.30" font-size="26.1" text-anchor="end" fill="#2B2B2B"><tspan dy="2.7">−</tspan><tspan dy="-2.7">40</tspan></text>
<line x1="701.50" y1="1339.60" x2="709.30" y2="1339.60" stroke="#101010" stroke-width="2.6"/>
<text x="694.90" y="1348.90" font-size="26.1" text-anchor="end" fill="#2B2B2B"><tspan dy="2.7">−</tspan><tspan dy="-2.7">60</tspan></text>
<line x1="733.00" y1="1341.50" x2="733.00" y2="1349.30" stroke="#101010" stroke-width="2.6"/>
<text x="733.00" y="1374.3" font-size="26.1" text-anchor="middle" fill="#2B2B2B">0</text>
<line x1="855.50" y1="1341.50" x2="855.50" y2="1349.30" stroke="#101010" stroke-width="2.6"/>
<text x="855.50" y="1374.3" font-size="26.1" text-anchor="middle" fill="#2B2B2B">31.25</text>
<line x1="971.20" y1="1341.50" x2="971.20" y2="1349.30" stroke="#101010" stroke-width="2.6"/>
<text x="971.20" y="1374.3" font-size="26.1" text-anchor="middle" fill="#2B2B2B">62.5</text>
<line x1="1086.90" y1="1341.50" x2="1086.90" y2="1349.30" stroke="#101010" stroke-width="2.6"/>
<text x="1086.90" y="1374.3" font-size="26.1" text-anchor="middle" fill="#2B2B2B">125</text>
<line x1="1202.60" y1="1341.50" x2="1202.60" y2="1349.30" stroke="#101010" stroke-width="2.6"/>
<text x="1202.60" y="1374.3" font-size="26.1" text-anchor="middle" fill="#2B2B2B">250</text>
<text x="672.2" y="1412.2" font-size="32.5" text-anchor="middle" textLength="277.5" lengthAdjust="spacingAndGlyphs" fill="#000">saliva concentration</text>
<text transform="translate(38.0,699.4) rotate(-90)" x="0" y="0" font-size="32.5" text-anchor="middle" textLength="687" lengthAdjust="spacingAndGlyphs" fill="#000">expression change, % relative to control (no LPS)</text>
<text x="1274.2" y="630.1" font-size="32.5" textLength="131.5" lengthAdjust="spacingAndGlyphs" fill="#000">individual</text>
<rect x="1292.40" y="659.80" width="14.2" height="14.2" fill="#E41A1C"/>
<text x="1330" y="676.20" font-size="26.1" fill="#000">1973</text>
<rect x="1292.40" y="709.10" width="14.2" height="14.2" fill="#377EB8"/>
<text x="1330" y="725.50" font-size="26.1" fill="#000">9567</text>
<rect x="1292.40" y="758.50" width="14.2" height="14.2" fill="#4DAF4A"/>
<text x="1330" y="774.90" font-size="26.1" fill="#000">9906</text>
</svg></body></html>
